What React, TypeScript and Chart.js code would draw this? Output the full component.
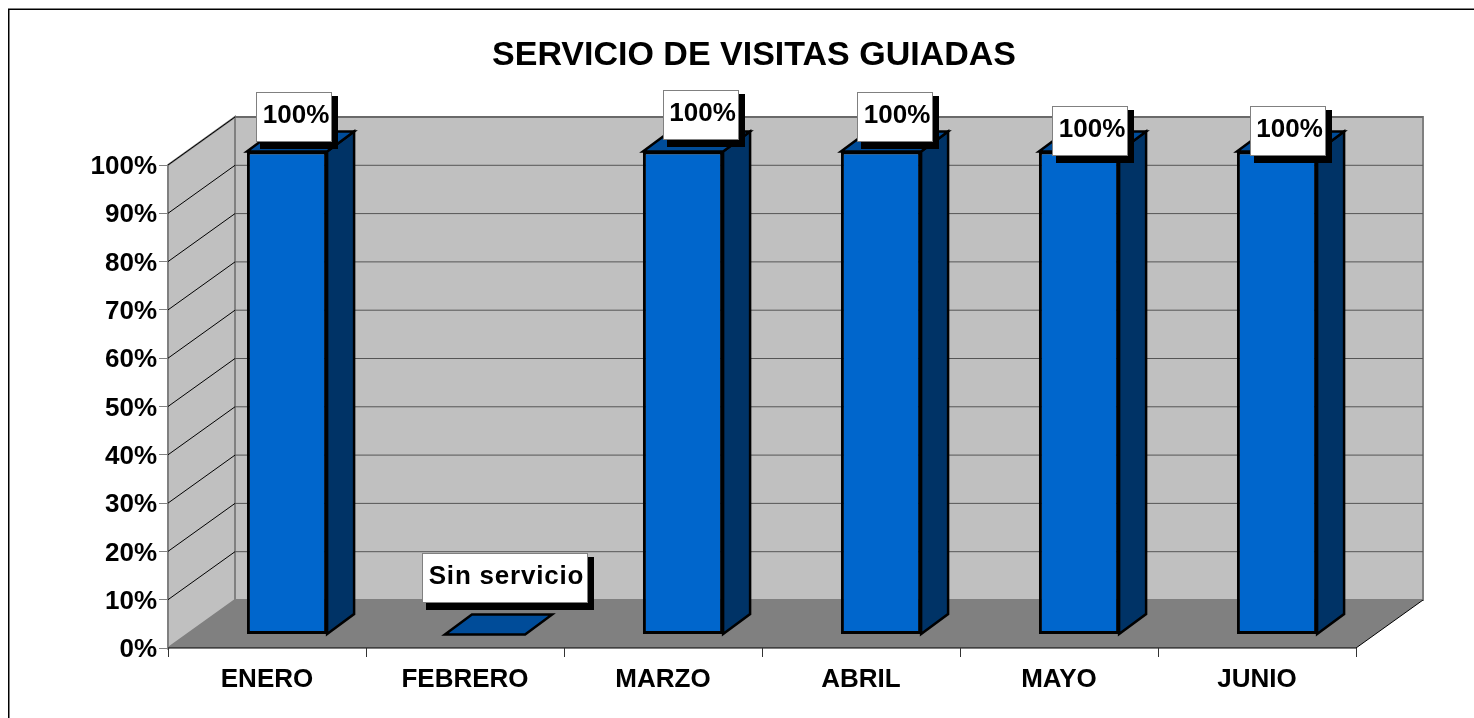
import React, { useEffect, useRef } from "react";
import { Chart, registerables } from "chart.js";

Chart.register(...registerables);

const months = ["ENERO", "FEBRERO", "MARZO", "ABRIL", "MAYO", "JUNIO"];
const coverage = [100, 0, 100, 100, 100, 100];
const dataLabels = ["100%", "Sin servicio", "100%", "100%", "100%", "100%"];
const labelTracking = [0, 0.8, 0, 0, 0, 0];
const labelShiftX = [7, 19.5, 17.5, 14, 11, 10.5];
const labelShiftY = [-35, -57, -37, -35, -21, -21];

const FONT = '"Liberation Sans", Arial, sans-serif';
const WALL_DX = 67;
const WALL_DY = -48;
const BAR_DX = 20;
const BAR_DY = -13.5;
const SIDE_DX = 27;
const SIDE_DY = -20;

function poly(ctx: CanvasRenderingContext2D, pts: number[][], fill: string | null, stroke: string | null, lw = 1) {
  ctx.beginPath();
  pts.forEach((p, i) => (i ? ctx.lineTo(p[0], p[1]) : ctx.moveTo(p[0], p[1])));
  ctx.closePath();
  if (fill) {
    ctx.fillStyle = fill;
    ctx.fill();
  }
  if (stroke) {
    ctx.strokeStyle = stroke;
    ctx.lineWidth = lw;
    ctx.lineJoin = "miter";
    ctx.stroke();
  }
}

const scene3d = {
  id: "scene3d",
  afterLayout(chart: any) {
    // let the value labels extend left of the narrow axis box without being clipped
    chart.scales.y.left = 0;
  },
  beforeDraw(chart: any) {
    const { ctx, chartArea: a, scales } = chart;
    const { left: l, right: r, top: t, bottom: b } = a;
    const dx = WALL_DX;
    const dy = WALL_DY;
    ctx.save();
    // outer frame: top and left edges only
    ctx.fillStyle = "#808080";
    ctx.fillRect(8, 8, chart.width - 8, 1);
    ctx.fillRect(9, 9, 1, chart.height - 9);
    ctx.fillStyle = "#000";
    ctx.fillRect(8, 9, chart.width - 8, 1);
    ctx.fillRect(8, 9, 1, chart.height - 9);
    // walls
    poly(ctx, [[l, t], [l + dx, t + dy], [l + dx, b + dy], [l, b]], "#C0C0C0", "#808080", 2);
    poly(ctx, [[l + dx, t + dy], [r + dx, t + dy], [r + dx, b + dy], [l + dx, b + dy]], "#C0C0C0", "#808080", 2);
    // floor
    poly(ctx, [[l, b], [l + dx, b + dy], [r + dx, b + dy], [r, b]], "#808080", null);
    // grid
    const y = scales.y;
    y.ticks.forEach((tk: any) => {
      const py = y.getPixelForValue(tk.value);
      if (tk.value === 0) return;
      ctx.strokeStyle = "#000";
      ctx.lineWidth = 1;
      ctx.beginPath();
      ctx.moveTo(l, py);
      ctx.lineTo(l + dx, py + dy);
      ctx.stroke();
      ctx.strokeStyle = "#555";
      ctx.beginPath();
      ctx.moveTo(l + dx, py + dy);
      ctx.lineTo(r + dx, py + dy);
      ctx.stroke();
    });
    // floor edges
    ctx.strokeStyle = "#000";
    ctx.lineWidth = 1;
    ctx.beginPath();
    ctx.moveTo(l, b);
    ctx.lineTo(r, b);
    ctx.lineTo(r + dx, b + dy);
    ctx.stroke();
    ctx.restore();
  },
  beforeDatasetDraw(chart: any, args: any) {
    const { ctx } = chart;
    const meta = args.meta;
    ctx.save();
    ctx.translate(BAR_DX, BAR_DY);
    meta.data.forEach((el: any) => {
      const p = el.getProps(["x", "y", "base", "width"], true);
      const x0 = p.x - p.width / 2;
      const x1 = p.x + p.width / 2;
      if (p.base - p.y > 0) {
        poly(ctx, [[x1, p.y], [x1 + SIDE_DX, p.y + SIDE_DY], [x1 + SIDE_DX, p.base + SIDE_DY], [x1, p.base]], "#003366", "#000", 2.5);
      }
      poly(ctx, [[x0, p.y], [x0 + SIDE_DX, p.y + SIDE_DY], [x1 + SIDE_DX, p.y + SIDE_DY], [x1, p.y]], "#004C99", "#000", 2.5);
    });
  },
  afterDatasetDraw(chart: any) {
    chart.ctx.restore();
  },
  afterDatasetsDraw(chart: any) {
    const { ctx } = chart;
    const meta = chart.getDatasetMeta(0);
    ctx.save();
    ctx.font = `bold 26px ${FONT}`;
    ctx.textAlign = "center";
    ctx.textBaseline = "middle";
    meta.data.forEach((el: any, i: number) => {
      const p = el.getProps(["x", "y"], true);
      const text = dataLabels[i];
      const cx = p.x + BAR_DX + labelShiftX[i];
      const cy = p.y + BAR_DY + labelShiftY[i];
      (ctx as any).letterSpacing = `${labelTracking[i]}px`;
      const tw = ctx.measureText(text).width;
      const w = Math.round(tw + 10);
      const h = 50;
      const bx = Math.round(cx - w / 2);
      const by = Math.round(cy - h / 2);
      ctx.fillStyle = "#000";
      ctx.fillRect(bx + 4, by + 4, w + 2, h + 3);
      ctx.fillStyle = "#fff";
      ctx.fillRect(bx, by, w, h);
      ctx.strokeStyle = "#808080";
      ctx.lineWidth = 1;
      ctx.strokeRect(bx + 0.5, by + 0.5, w - 1, h - 1);
      ctx.fillStyle = "#000";
      ctx.fillText(text, cx + 2, cy - 1);
    });
    ctx.restore();
  },
};

export default function App() {
  const ref = useRef<HTMLCanvasElement>(null);
  useEffect(() => {
    const chart = new Chart(ref.current!, {
      type: "bar",
      data: {
        labels: months,
        datasets: [
          {
            label: "SERVICIO DE VISITAS GUIADAS",
            data: coverage,
            backgroundColor: "#0066CC",
            borderColor: "#000000",
            borderWidth: 3,
            borderSkipped: false,
            barPercentage: 0.405,
            categoryPercentage: 1,
          },
        ],
      },
      options: {
        responsive: false,
        animation: false,
        layout: { padding: { left: 152, right: 118, top: 0, bottom: 0 } },
        plugins: {
          legend: { display: false },
          tooltip: { enabled: false },
          title: {
            display: true,
            text: "SERVICIO DE VISITAS GUIADAS",
            color: "#000",
            font: { family: FONT, size: 34, weight: "bold", lineHeight: 1.2 },
            padding: { top: 35, bottom: 89.2 },
          },
        },
        scales: {
          x: {
            afterFit(s: any) {
              s.height = 70;
            },
            border: { display: false },
            grid: { drawOnChartArea: false, drawTicks: true, tickLength: 9, color: "#333" },
            ticks: {
              color: "#000",
              padding: 7,
              maxRotation: 0,
              font: { family: FONT, size: 26, weight: "bold" },
            },
          },
          y: {
            min: 0,
            max: 100,
            afterFit(s: any) {
              s.width = 16;
            },
            border: { display: false },
            grid: { drawOnChartArea: false, drawTicks: true, tickLength: 9, color: "#808080" },
            ticks: {
              stepSize: 10,
              color: "#000",
              padding: 2,
              labelOffset: 2,
              font: { family: FONT, size: 26, weight: "bold" },
              callback: (v: any) => `${v}%`,
            },
          },
        },
      },
      plugins: [scene3d],
    } as any);
    return () => chart.destroy();
  }, []);
  return (
    <canvas
      ref={ref}
      width={1474}
      height={718}
      style={{ position: "fixed", left: 0, top: 0, width: 1474, height: 718, display: "block" }}
    />
  );
}
